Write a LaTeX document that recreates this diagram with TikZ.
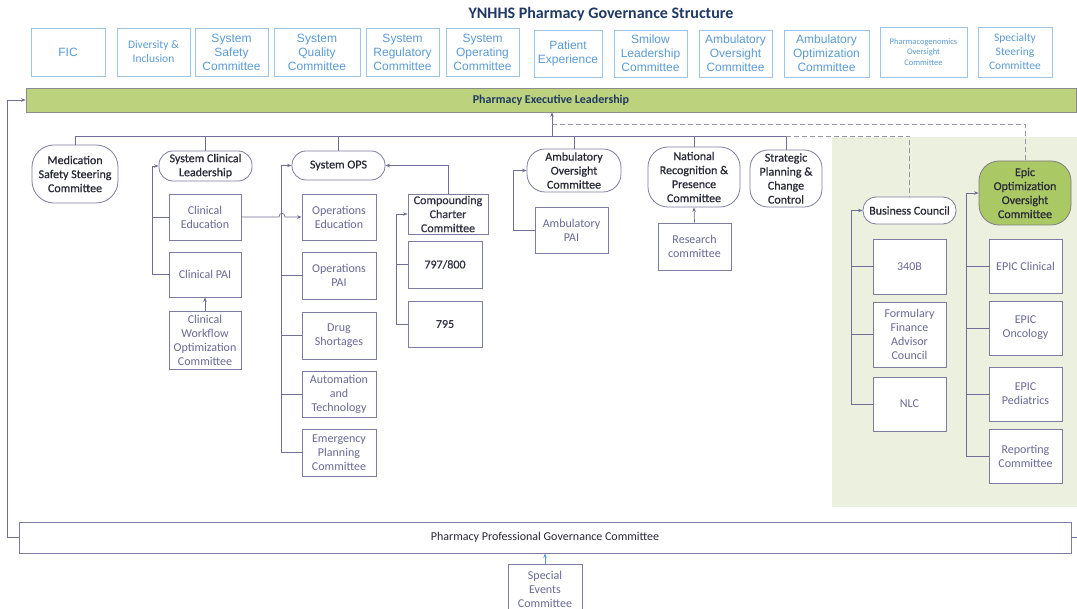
\documentclass[tikz,border=0pt]{standalone}
\usepackage{fontspec}
\setmainfont{Carlito}
\newfontfamily\arialf{Liberation Sans}
\newfontfamily\semib[FakeBold=0.6]{Carlito}
\usetikzlibrary{arrows.meta,calc}
\definecolor{topb}{RGB}{157,195,230}
\definecolor{topt}{RGB}{91,155,213}
\definecolor{navy}{RGB}{31,56,100}
\definecolor{execg}{RGB}{189,210,124}
\definecolor{execb}{RGB}{140,140,140}
\definecolor{boxc}{RGB}{125,125,160}
\definecolor{linec}{RGB}{110,110,150}
\definecolor{subt}{RGB}{105,105,150}
\definecolor{darkt}{RGB}{40,40,55}
\definecolor{greenbg}{RGB}{235,241,222}
\definecolor{epicg}{RGB}{170,200,100}
\definecolor{dashc}{RGB}{150,150,165}
\definecolor{arrblue}{RGB}{91,155,213}
\newcommand{\bx}[7]{\node[#6, minimum width={#4-#2}, minimum height={#5-#3}] (#1) at ({(#2+#4)/2},{(#3+#5)/2}) {#7};}
\begin{document}
\begin{tikzpicture}[x=1pt,y=-1pt,
  top/.style={draw=topb, line width=0.8pt, text=topt, font=\arialf\fontsize{12}{14}\selectfont, align=center, inner sep=0pt},
  topc/.style={top, font=\fontsize{11.5}{14}\selectfont},
  rnd/.style={draw=boxc, line width=0.8pt, fill=white, text=darkt, font=\semib\fontsize{12}{14}\selectfont, align=center, inner sep=0pt, rounded corners=14pt},
  sub/.style={draw=boxc, line width=0.8pt, fill=white, text=subt, font=\fontsize{12}{14}\selectfont, align=center, inner sep=0pt},
  subd/.style={sub, text=darkt!85!subt, font=\semib\fontsize{12}{14}\selectfont},
  con/.style={draw=linec, line width=0.7pt},
  arr/.style={con, -{Stealth[length=4.5pt,width=3.5pt]}},
  dsh/.style={draw=dashc, line width=0.8pt, dash pattern=on 5pt off 3pt}]
\clip (0,0) rectangle (1077,609);
\fill[white] (0,0) rectangle (1077,609);
% green region
\fill[greenbg] (832,137) rectangle (1077,507);
% title
\node[text=navy, font=\bfseries\fontsize{16}{18}\selectfont] (title) at (601,14) {YNHHS Pharmacy Governance Structure};
% top row
\bx{fic}{31}{28}{105}{76}{top}{FIC}
\bx{div}{117}{28}{190}{76}{topc}{Diversity \&\\Inclusion}
\bx{ssc}{195}{28}{268}{76}{top}{System\\Safety\\Committee}
\bx{sqc}{274}{28}{360}{76}{top}{System\\Quality\\Committee}
\bx{src}{366}{28}{439}{76}{top}{System\\Regulatory\\Committee}
\bx{soc}{446}{28}{519}{76}{top}{System\\Operating\\Committee}
\bx{pex}{534}{30}{602}{77}{top}{Patient\\Experience}
\bx{slc}{614}{30}{687}{77}{top}{Smilow\\Leadership\\Committee}
\bx{aovt}{699}{30}{772}{77}{top}{Ambulatory\\Oversight\\Committee}
\bx{aopt}{784}{30}{869}{77}{top}{Ambulatory\\Optimization\\Committee}
\bx{pgx}{880}{27}{967}{77}{top, font=\fontsize{8.5}{10.5}\selectfont}{Pharmacogenomics\\Oversight\\Committee}
\bx{sst}{978}{27}{1052}{77}{topc}{Specialty\\Steering\\Committee}
% executive bar
\bx{exec}{26}{88}{1076}{112}{draw=execb, fill=execg, line width=0.8pt, inner sep=0pt, text=navy, font=\bfseries\fontsize{12}{14}\selectfont}{Pharmacy Executive Leadership}
% bus and dashed lines
\coordinate (bus) at (0,136);
\coordinate (up) at (552,136);
\coordinate (dl) at (552,124);
% main rounded nodes
\bx{med}{32}{145}{118}{203}{rnd, rounded corners=22pt}{Medication\\Safety Steering\\Committee}
\bx{scl}{159}{151}{252}{181}{rnd}{System Clinical\\Leadership}
\bx{sysops}{292}{151}{385}{180}{rnd}{System OPS}
\bx{aoc}{527}{149}{621}{192}{rnd, rounded corners=18pt}{Ambulatory\\Oversight\\Committee}
\bx{nrpc}{648}{147}{740}{207}{rnd, rounded corners=20pt}{National\\Recognition \&\\Presence\\Committee}
\bx{spcc}{750}{150}{822}{207}{rnd, rounded corners=18pt}{Strategic\\Planning \&\\Change\\Control}
\bx{bc}{863}{197}{956}{224}{rnd, rounded corners=13pt}{Business Council}
\bx{eooc}{979}{161}{1071}{225}{rnd, fill=epicg, draw=darkt!60, rounded corners=20pt}{Epic\\Optimization\\Oversight\\Committee}
% sub boxes
\bx{cedu}{169}{194}{241}{240}{sub}{Clinical\\Education}
\bx{cpai}{169}{252}{241}{297}{sub}{Clinical PAI}
\bx{cwoc}{169}{311}{241}{369}{sub}{Clinical\\Workflow\\Optimization\\Committee}
\bx{oedu}{302}{194}{376}{240}{sub}{Operations\\Education}
\bx{opai}{302}{252}{376}{299}{sub}{Operations\\PAI}
\bx{drug}{302}{312}{376}{359}{sub}{Drug\\Shortages}
\bx{auto}{302}{371}{376}{417}{sub}{Automation\\and\\Technology}
\bx{emer}{302}{429}{376}{476}{sub}{Emergency\\Planning\\Committee}
\bx{ccc}{408}{194}{488}{234}{subd}{Compounding\\Charter\\Committee}
\bx{n797}{408}{241}{482}{288}{subd}{797/800}
\bx{n795}{408}{301}{482}{347}{subd}{795}
\bx{apai}{535}{207}{608}{253}{sub}{Ambulatory\\PAI}
\bx{res}{658}{223}{731}{270}{sub}{Research\\committee}
\bx{b340}{873}{239}{946}{294}{sub}{340B}
\bx{ffac}{873}{302}{946}{367}{sub}{Formulary\\Finance\\Advisor\\Council}
\bx{nlc}{873}{377}{946}{431}{sub}{NLC}
\bx{ecl}{989}{239}{1062}{293}{sub}{EPIC Clinical}
\bx{eonc}{989}{301}{1062}{355}{sub}{EPIC\\Oncology}
\bx{eped}{989}{367}{1062}{421}{sub}{EPIC\\Pediatrics}
\bx{rep}{989}{429}{1062}{483}{sub}{Reporting\\Committee}
% bottom
\bx{ppgc}{19}{522}{1071}{553}{draw=boxc, line width=0.8pt, fill=white, inner sep=0pt, text=darkt, font=\fontsize{12}{14}\selectfont}{Pharmacy Professional Governance Committee}
\bx{spe}{508}{564}{582}{615}{sub}{Special\\Events\\Committee}
% connectors
\draw[con] (med.north |- bus) -- (spcc.north |- bus);
\foreach \n in {med,scl,sysops,aoc,nrpc,spcc} \draw[con] (\n.north) -- (\n.north |- bus);
\draw[arr] (up) -- (up |- exec.south);
\draw[dsh] (spcc.north |- bus) -| (bc.north);
\draw[dsh] (dl) -| (eooc.north);
% clinical
\draw[arr] (cpai.west) -- ++(-16,0) |- (scl.west);
\draw[con] (cedu.west) -- ++(-16,0);
\draw[arr] (cwoc.north) -- (cpai.south);
% ops
\draw[arr] (emer.west) -- ++(-20,0) |- (sysops.west);
\foreach \n in {opai,drug,auto} \draw[con] (\n.west) -- ++(-20,0);
\draw[arr] (cedu.east) -- (279,217) .. controls (279,212) and (285,212) .. (285,217) -- (oedu.west);
% compounding
\draw[arr] (ccc.north) |- (sysops.east);
\draw[arr] (n795.west) -- ++(-11,0) |- (ccc.west);
\draw[con] (n797.west) -- ++(-11,0);
% ambulatory
\draw[arr] (apai.west) -- ++(-21,0) |- (aoc.west);
\draw[arr] (res.north) -- (nrpc.south);
% business council
\draw[arr] (nlc.west) -- ++(-21,0) |- (bc.west);
\foreach \n in {b340,ffac} \draw[con] (\n.west) -- ++(-21,0);
% epic
\draw[arr] (rep.west) -- ++(-22,0) |- (eooc.west);
\foreach \n in {ecl,eonc,eped} \draw[con] (\n.west) -- ++(-22,0);
% bottom loop
\draw[arr] (ppgc.west) -- ++(-11.5,0) |- (exec.west);
\draw[con] (ppgc.east) -- ++(8,0);
\draw[arr, draw=arrblue] (spe.north) -- (ppgc.south);
\end{tikzpicture}
\end{document}
